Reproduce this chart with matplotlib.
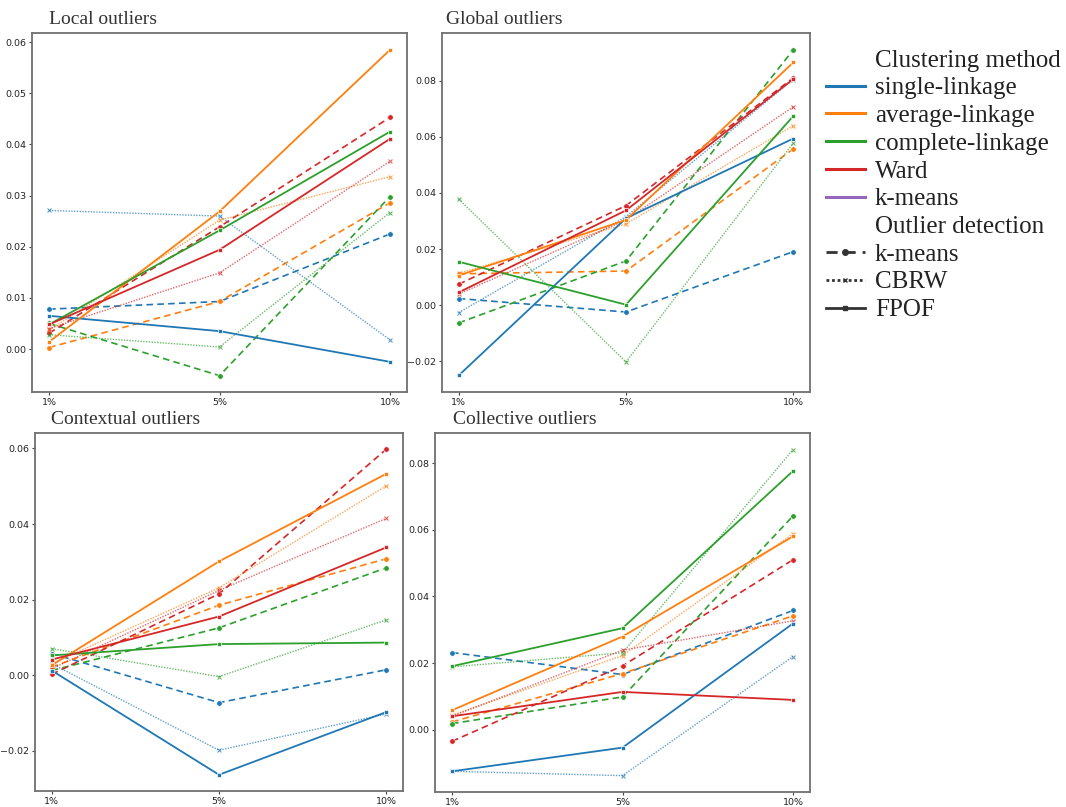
import matplotlib
matplotlib.use("Agg")
import matplotlib.pyplot as plt
from matplotlib.lines import Line2D

# Categories
x_labels = ["1%", "5%", "10%"]
clustering = ["single-linkage", "average-linkage", "complete-linkage", "Ward", "k-means"]
detectors = ["k-means", "CBRW", "FPOF"]
colors = ["#1f77b4", "#ff7f0e", "#2ca02c", "#d62728", "#9467bd"]

# Values per panel / detector; rows follow clustering order (k-means clustering has no data)
local_kmeans = [[0.0078, 0.0093, 0.0225], [0.0003, 0.0093, 0.0286],
                [0.0050, -0.0052, 0.0298], [0.0031, 0.0239, 0.0453]]
local_cbrw = [[0.0271, 0.0260, 0.0018], [0.0037, 0.0252, 0.0337],
              [0.0028, 0.0004, 0.0267], [0.0040, 0.0149, 0.0367]]
local_fpof = [[0.0065, 0.0035, -0.0025], [0.0014, 0.0269, 0.0585],
              [0.0048, 0.0232, 0.0425], [0.0048, 0.0194, 0.0411]]

global_kmeans = [[0.0024, -0.0024, 0.0191], [0.0112, 0.0122, 0.0557],
                 [-0.0063, 0.0158, 0.0910], [0.0075, 0.0355, 0.0810]]
global_cbrw = [[-0.0026, 0.0316, 0.0804], [0.0114, 0.0290, 0.0640],
               [0.0378, -0.0202, 0.0578], [0.0040, 0.0304, 0.0707]]
global_fpof = [[-0.0250, 0.0310, 0.0594], [0.0106, 0.0304, 0.0865],
               [0.0155, 0.0002, 0.0674], [0.0046, 0.0338, 0.0806]]

context_kmeans = [[0.0057, -0.0073, 0.0014], [0.0021, 0.0185, 0.0308],
                  [0.0012, 0.0125, 0.0284], [0.0002, 0.0215, 0.0598]]
context_cbrw = [[0.0030, -0.0199, -0.0103], [0.0030, 0.0231, 0.0501],
                [0.0070, -0.0004, 0.0146], [0.0017, 0.0224, 0.0415]]
context_fpof = [[0.0012, -0.0264, -0.0098], [0.0026, 0.0301, 0.0533],
                [0.0052, 0.0082, 0.0086], [0.0041, 0.0155, 0.0338]]

collect_kmeans = [[0.0232, 0.0166, 0.0358], [0.0024, 0.0169, 0.0342],
                  [0.0019, 0.0099, 0.0641], [-0.0034, 0.0192, 0.0510]]
collect_cbrw = [[-0.0124, -0.0137, 0.0220], [0.0044, 0.0223, 0.0588],
                [0.0189, 0.0231, 0.0840], [0.0041, 0.0239, 0.0327]]
collect_fpof = [[-0.0124, -0.0053, 0.0319], [0.0059, 0.0280, 0.0580],
                [0.0191, 0.0305, 0.0776], [0.0041, 0.0114, 0.0090]]

panels = [
    ("Local outliers", [local_kmeans, local_cbrw, local_fpof], (-0.0084, 0.0618)),
    ("Global outliers", [global_kmeans, global_cbrw, global_fpof], (-0.0309, 0.097)),
    ("Contextual outliers", [context_kmeans, context_cbrw, context_fpof], (-0.0307, 0.0641)),
    ("Collective outliers", [collect_kmeans, collect_cbrw, collect_fpof], (-0.0186, 0.089)),
]

styles = {
    "k-means": dict(linestyle=(0, (4, 2.5)), marker="o", markersize=4, linewidth=1.2),
    "CBRW": dict(linestyle=(0, (1, 1)), marker="x", markersize=3.5, linewidth=1.0, alpha=0.7),
    "FPOF": dict(linestyle="-", marker="s", markersize=3.2, linewidth=1.3),
}

W, H = 1066, 807
fig = plt.figure(figsize=(W / 100, H / 100), dpi=100)

# axes boxes in pixels: left, top, right, bottom
boxes = [(32, 33, 407, 392), (442, 33, 810, 392), (35, 433, 403, 791), (435, 433, 810, 792)]
title_x = [49, 446, 51, 453]

x = range(len(x_labels))
for (title, series, ylim), (l, t, r, b), tx in zip(panels, boxes, title_x):
    ax = fig.add_axes([l / W, 1 - b / H, (r - l) / W, (b - t) / H])
    for det, rows in zip(detectors, series):
        for ci, vals in enumerate(rows):
            st = styles[det]
            ax.plot(x, vals, color=colors[ci], markeredgecolor="white" if det != "CBRW" else colors[ci],
                    markeredgewidth=0.5 if det != "CBRW" else 0.8, **st)
    ax.set_xlim(-0.1, 2.1)
    ax.set_ylim(*ylim)
    ax.set_xticks(list(x))
    ax.set_xticklabels(x_labels)
    ax.tick_params(labelsize=6.8, length=2.5, pad=1.5, width=0.8, color="#444444",
                   labelcolor="#222222")
    for sp in ax.spines.values():
        sp.set_color("#707070")
        sp.set_linewidth(1.3)
    fig.text(tx / W, 1 - (t - 13) / H, title, family="Liberation Serif", fontsize=14,
             color="#333333", ha="left", va="center")

# legend
handles, labels = [], []
handles.append(Line2D([], [], color="none"))
labels.append("Clustering method")
for name, c in zip(clustering, colors):
    handles.append(Line2D([], [], color=c, linewidth=2.2))
    labels.append(name)
handles.append(Line2D([], [], color="none"))
labels.append("Outlier detection")
for det in detectors:
    st = dict(styles[det])
    st.pop("alpha", None)
    st["linewidth"] = 2.0
    handles.append(Line2D([], [], color="#333333", markeredgecolor="#333333", **st))
    labels.append(det)

fig.legend(handles, labels, loc="upper left", bbox_to_anchor=(826 / W, 1 - 49 / H),
           frameon=False, borderpad=0, borderaxespad=0, handlelength=1.55,
           handletextpad=0.4, labelspacing=0.21,
           prop={"family": "Liberation Serif", "size": 18}, labelcolor="#222222")

fig.savefig("out.png", dpi=100)
